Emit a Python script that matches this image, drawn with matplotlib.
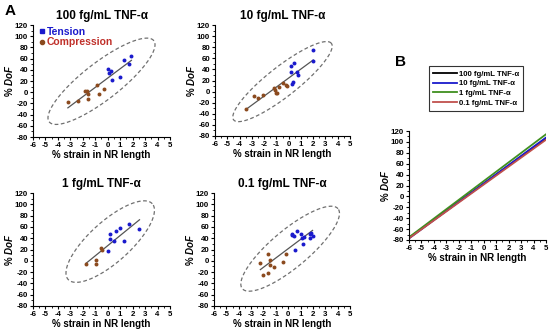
import numpy as np
import matplotlib
matplotlib.use("Agg")
import matplotlib.pyplot as plt
from matplotlib.ticker import MultipleLocator
from matplotlib.lines import Line2D

plt.rcParams['font.family'] = ['Liberation Sans', 'DejaVu Sans']
plt.rcParams['font.weight'] = 'bold'
plt.rcParams['axes.unicode_minus'] = False
plt.rcParams['mathtext.fontset'] = 'custom'
plt.rcParams['mathtext.bfit'] = 'Liberation Sans:italic:bold'
plt.rcParams['mathtext.it'] = 'Liberation Sans:italic:bold'

# ---------------- data ----------------
titles = ["100 fg/mL TNF-α", "10 fg/mL TNF-α", "1 fg/mL TNF-α", "0.1 fg/mL TNF-α"]

t100_x = [1.9, 1.3, 1.7, 0.05, 0.25, 0.1, 0.35, 1.0]
t100_y = [65, 58, 51, 41, 38, 35, 22, 27]
c100_x = [-3.2, -2.35, -1.8, -1.65, -1.55, -1.55, -0.85, -0.7, -0.3]
c100_y = [-17, -16, 2, 2, -3, -13, 13, -3, 6]

t10_x = [2.0, 2.0, 0.2, 0.45, 0.2, 0.7, 0.8, 0.38, 0.3]
t10_y = [75, 56, 47, 51, 36, 35, 30, 17, 14]
c10_x = [-3.5, -2.85, -2.5, -2.1, -1.15, -1.05, -0.95, -1.2, -0.8, -0.45, -0.2, -0.1]
c10_y = [-31, -8, -12, -7, 3, -2, -3, 6, 9, 15, 12, 10]

t1_x = [1.7, 2.55, 1.0, 0.65, 0.2, 0.15, 0.5, 1.3, 0.05]
t1_y = [66, 56, 58, 53, 47, 38, 35, 35, 17]
c1_x = [-1.72, -0.97, -0.97, -0.51, -0.44]
c1_y = [-5, 1, -5, 23, 19]

t01_x = [0.32, 0.28, 0.45, 0.72, 1.0, 1.12, 1.28, 1.18, 0.57, 1.75, 1.88, 1.97, 1.8]
t01_y = [47, 45, 44, 53, 47, 41, 42, 30, 20, 47, 50, 44, 41]
c01_x = [-2.25, -2.0, -1.65, -1.6, -1.5, -1.45, -1.12, -0.45, -0.15]
c01_y = [-4, -25, -21, 11.5, 1, -7, -10.5, -1.5, 12]

tension_x = [t100_x, t10_x, t1_x, t01_x]
tension_y = [t100_y, t10_y, t1_y, t01_y]
compress_x = [c100_x, c10_x, c1_x, c01_x]
compress_y = [c100_y, c10_y, c1_y, c01_y]

# ellipse: centre, tip of the major axis (data), minor/major ratio
ell_center = [(-0.5, 19.5), (-0.5, 18.0), (0.2, 34.0), (0.16, 21.4)]
ell_tip = [(3.7, 92.0), (3.48, 87.0), (3.58, 101.0), (4.03, 92.2)]
ell_ratio = [0.28, 0.24, 0.36, 0.30]

# panel B lines: value at x=-6 and x=5
b_labels = ["100 fg/mL TNF-α", "10 fg/mL TNF-α", "1 fg/mL TNF-α", "0.1 fg/mL TNF-α"]
b_x = [-6, 5]
b_y_left = [-76, -77, -75, -77]
b_y_right = [106, 108, 114, 104]
b_colors = ["#000000", "#1a1acc", "#3f8f1f", "#c0504d"]

xticks = list(range(-6, 6))
yticks = list(range(-80, 121, 20))

# ---------------- figure ----------------
fig = plt.figure(figsize=(5.5, 3.34), dpi=100)

pos = [
    [33/550, 1-137/334, 137/550, 112/334],
    [215/550, 1-136/334, 135/550, 111/334],
    [33/550, 1-306/334, 137/550, 113/334],
    [214/550, 1-306/334, 136/550, 113/334],
]
posB = [409/550, 1-240/334, 137/550, 109/334]

blue = "#1a1acc"
brown = "#8b4a1e"


def style_axes(ax):
    ax.set_xlim(-6, 5)
    ax.set_ylim(-80, 120)
    ax.set_xticks(xticks)
    ax.set_yticks(yticks)
    ax.xaxis.set_minor_locator(MultipleLocator(0.5))
    ax.yaxis.set_minor_locator(MultipleLocator(10))
    for s in ['top', 'right']:
        ax.spines[s].set_visible(False)
    for s in ['left', 'bottom']:
        ax.spines[s].set_linewidth(0.8)
    ax.tick_params(which='major', length=2.5, width=0.8, labelsize=5.7, pad=1)
    ax.tick_params(which='minor', length=1.5, width=0.6)
    for lab in ax.get_xticklabels() + ax.get_yticklabels():
        lab.set_fontweight('bold')
    ax.set_xlabel("% strain in NR length", fontsize=7, fontweight='bold', labelpad=1)
    ax.set_ylabel(r"% $\mathbfit{DoF}$", fontsize=7, fontweight='bold', labelpad=0)


def draw_ellipse(ax, center, tip, ratio):
    T = ax.transData
    c = T.transform(center)
    t = T.transform(tip)
    a = t - c
    b = np.array([-a[1], a[0]]) * ratio
    th = np.linspace(0, 2*np.pi, 300)
    pts = c + np.outer(np.cos(th), a) + np.outer(np.sin(th), b)
    d = T.inverted().transform(pts)
    ax.plot(d[:, 0], d[:, 1], ls=(0, (3, 2)), color='#707070', lw=0.9)


for i in range(4):
    ax = fig.add_axes(pos[i])
    style_axes(ax)
    ax.set_title(titles[i], fontsize=8.5, fontweight='bold', pad=4)
    draw_ellipse(ax, ell_center[i], ell_tip[i], ell_ratio[i])
    xs = np.array(tension_x[i] + compress_x[i])
    ys = np.array(tension_y[i] + compress_y[i])
    k, b0 = np.polyfit(xs, ys, 1)
    lx = np.array([xs.min(), xs.max()])
    ax.plot(lx, k*lx + b0, color='#555555', lw=0.9, zorder=2)
    ax.scatter(tension_x[i], tension_y[i], s=8, color=blue, zorder=3, linewidths=0)
    ax.scatter(compress_x[i], compress_y[i], s=8, color=brown, zorder=3, linewidths=0)
    if i == 0:
        h1 = Line2D([], [], marker='s', ls='none', color=blue, markersize=3)
        h2 = Line2D([], [], marker='o', ls='none', color=brown, markersize=3)
        leg = ax.legend([h1, h2], ["Tension", "Compression"], loc='upper left',
                        bbox_to_anchor=(-0.02, 1.05), frameon=False,
                        prop={'size': 7.5, 'weight': 'bold'}, handletextpad=0.1,
                        handlelength=0.8, labelspacing=0.05, borderpad=0.2)
        leg.get_texts()[0].set_color(blue)
        leg.get_texts()[1].set_color("#c0302a")

axB = fig.add_axes(posB)
style_axes(axB)
for j in range(4):
    axB.plot(b_x, [b_y_left[j], b_y_right[j]], color=b_colors[j], lw=1.3,
             label=b_labels[j])
legB = axB.legend(loc='lower left', bbox_to_anchor=(0.12, 1.15), frameon=True,
                  fancybox=False, edgecolor='black', prop={'size': 5.6, 'weight': 'bold'},
                  handlelength=3.0, handletextpad=0.3, labelspacing=0.3,
                  borderpad=0.5)
legB.get_frame().set_linewidth(0.8)

fig.text(5/550, 1-4/334, "A", fontsize=11, fontweight='bold', va='top', ha='left')
fig.text(395/550, 1-55/334, "B", fontsize=11, fontweight='bold', va='top', ha='left')

fig.savefig("out.png", dpi=100)
